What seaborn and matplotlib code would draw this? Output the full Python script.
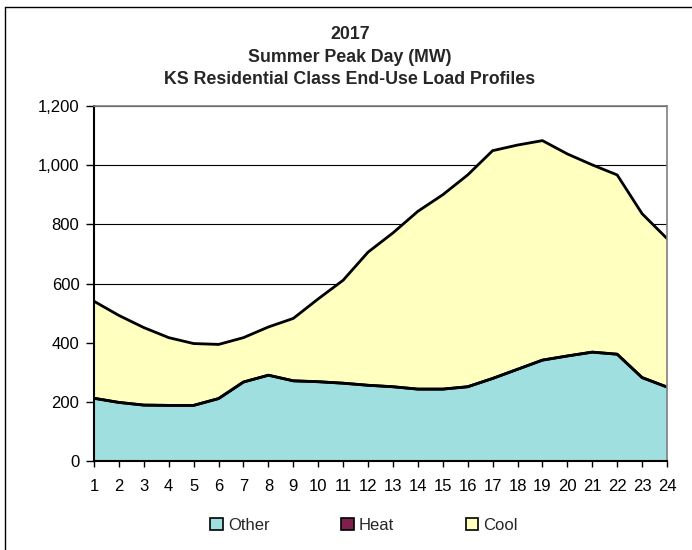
import numpy as np
import pandas as pd
import matplotlib
matplotlib.use("Agg")
import matplotlib.pyplot as plt
import seaborn as sns
from matplotlib.patches import Patch
from matplotlib.lines import Line2D
from matplotlib.ticker import FuncFormatter

# Hourly end-use loads (MW)
hours = list(range(1, 25))
other = [212, 198, 189, 188, 188, 211, 267, 290, 271, 268, 263, 256,
         251, 243, 243, 251, 279, 310, 341, 355, 368, 361, 282, 250]
heat = [0] * 24
total = [540, 492, 451, 417, 397, 394, 417, 453, 482, 548, 611, 706,
         771, 844, 900, 967, 1049, 1068, 1083, 1038, 1001, 967, 836, 752]
cool = [t - o - h for t, o, h in zip(total, other, heat)]

series_names = ["Other", "Heat", "Cool"]
series_colors = ["#A0DFDF", "#7F1F4F", "#FFFFC0"]
y_ticks = [0, 200, 400, 600, 800, 1000, 1200]
title = "2017\nSummer Peak Day (MW)\nKS Residential Class End-Use Load Profiles"

df = pd.DataFrame({"hour": hours, "Other": other, "Heat": heat, "Cool": cool})

sns.set_theme(style="white")
plt.rcParams["font.family"] = ["Liberation Sans", "DejaVu Sans"]

W, H = 692, 550
fig = plt.figure(figsize=(W / 100, H / 100), dpi=100)

# plot area in pixel coords: left 94, right 667, top 106, bottom 461
ax = fig.add_axes([94 / W, 1 - 461 / H, (667 - 94) / W, (461 - 106) / H])

ax.stackplot(df["hour"], df["Other"], df["Heat"], df["Cool"],
             colors=series_colors, linewidth=0)
cum = df[["Other", "Heat", "Cool"]].cumsum(axis=1)
for name in series_names:
    sns.lineplot(x=df["hour"], y=cum[name], ax=ax, color="black",
                 linewidth=2, legend=False)

ax.set_xlim(1, 24)
ax.set_ylim(0, 1200)
ax.set_xticks(hours)
ax.set_yticks(y_ticks)
ax.yaxis.set_major_formatter(FuncFormatter(lambda v, p: f"{int(v):,}"))
ax.set_xlabel("")
ax.set_ylabel("")
ax.grid(axis="y", color="black", linewidth=0.8)
ax.set_axisbelow(True)
ax.tick_params(axis="both", which="both", direction="out", width=1,
               color="black", labelsize=12, labelcolor="black",
               left=True, bottom=True)
ax.tick_params(axis="x", length=4, pad=9)
ax.tick_params(axis="y", length=5.5, pad=5)
for side in ["top", "right"]:
    ax.spines[side].set_color("#808080")
    ax.spines[side].set_linewidth(1.2)
for side in ["left", "bottom"]:
    ax.spines[side].set_color("black")
    ax.spines[side].set_linewidth(1.5)

fig.text(350 / W, 1 - 57 / H, title, ha="center", va="center",
         fontsize=12.8, fontweight="bold", linespacing=1.45)

handles = [Patch(facecolor=c, edgecolor="black", linewidth=1.2)
           for c in series_colors]
fig.legend(handles, series_names, loc="center", ncol=3,
           bbox_to_anchor=(364 / W, 1 - 525 / H), frameon=False,
           fontsize=12, handlelength=0.75, handleheight=0.75,
           handletextpad=0.3, columnspacing=4.3)

# outer chart border (left and top visible in the reference)
fig.add_artist(Line2D([5 / W, 5 / W], [0, 1 - 7 / H], color="black",
                      linewidth=1, transform=fig.transFigure))
fig.add_artist(Line2D([5 / W, 1], [1 - 7 / H, 1 - 7 / H], color="black",
                      linewidth=1, transform=fig.transFigure))

fig.savefig("out.png", dpi=100)
